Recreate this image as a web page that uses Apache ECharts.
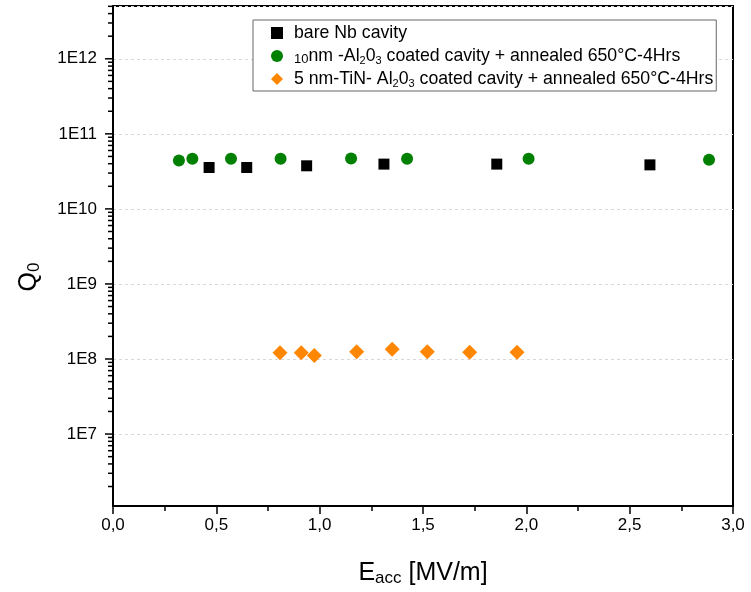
<!DOCTYPE html>
<html>
<head>
<meta charset="utf-8">
<script src="https://cdn.jsdelivr.net/npm/echarts@6/dist/echarts.min.js"></script>
<style>html,body{margin:0;padding:0;background:#fff}#c{width:751px;height:592px}</style>
</head>
<body>
<div id="c"></div>
<script>
// ---- data ----
const bareNbX = [0.465, 0.647, 0.937, 1.311, 1.857, 2.598];
const bareNbY = [3.56e10, 3.56e10, 3.75e10, 3.95e10, 3.95e10, 3.86e10];
const alX = [0.319, 0.384, 0.571, 0.811, 1.152, 1.423, 2.011, 2.884];
const alY = [4.4e10, 4.64e10, 4.64e10, 4.64e10, 4.7e10, 4.64e10, 4.64e10, 4.5e10];
const tinX = [0.808, 0.911, 0.974, 1.179, 1.351, 1.521, 1.726, 1.955];
const tinY = [1.21e8, 1.21e8, 1.11e8, 1.25e8, 1.35e8, 1.25e8, 1.23e8, 1.23e8];
const seriesNames = ['bare Nb cavity', 'Al2O3 10nm', 'TiN Al2O3 5nm'];
const legendLabels = [
  'bare Nb cavity',
  '{sm|10}nm -Al{sub|2}0{sub|3} coated cavity + annealed 650°C-4Hrs',
  '5 nm-TiN- Al{sub|2}0{sub|3} coated cavity + annealed 650°C-4Hrs'
];
const xTickLabels = ['0,0', '0,5', '1,0', '1,5', '2,0', '2,5', '3,0'];
const yMajorTicks = [1e7, 1e8, 1e9, 1e10, 1e11, 1e12];
const yMinorMultipliers = [2, 3, 4, 5, 6, 7, 8, 9];
const yMinorDecades = [1e6, 1e7, 1e8, 1e9, 1e10, 1e11, 1e12];

const Y_MIN = 1.1e6, Y_MAX = 5.05e12;
const FONT = 'Liberation Sans, Arial, sans-serif';

const tickData = [];
yMajorTicks.forEach(v => tickData.push([0, v, 1]));
yMinorDecades.forEach(d => yMinorMultipliers.forEach(m => {
  const v = d * m;
  if (v >= Y_MIN && v <= Y_MAX) tickData.push([0, v, 0]);
}));

const zip = (xs, ys) => xs.map((x, i) => [x, ys[i]]);

const chart = echarts.init(document.getElementById('c'), null, {renderer: 'canvas'});
chart.setOption({
  animation: false,
  backgroundColor: '#fff',
  grid: {left: 113, right: 18, top: 6, bottom: 86, show: true, borderColor: '#000', borderWidth: 2, backgroundColor: 'transparent'},
  legend: {
    data: [
      {name: seriesNames[0], icon: 'rect'},
      {name: seriesNames[1], icon: 'circle'},
      {name: seriesNames[2], icon: 'diamond'}
    ],
    orient: 'vertical',
    left: 253, top: 20,
    padding: [3, 3, 2, 18],
    itemGap: 3,
    itemWidth: 12, itemHeight: 12,
    borderColor: '#666', borderWidth: 1, borderRadius: 0,
    backgroundColor: '#fff',
    formatter: name => legendLabels[seriesNames.indexOf(name)],
    textStyle: {
      fontFamily: FONT, fontSize: 17.7, color: '#000', lineHeight: 20,
      padding: [0, 0, 0, 6],
      rich: {
        sub: {fontFamily: FONT, fontSize: 11, lineHeight: 9, verticalAlign: 'bottom', color: '#000'},
        sm: {fontFamily: FONT, fontSize: 13, lineHeight: 17, verticalAlign: 'bottom', color: '#000'}
      }
    }
  },
  xAxis: {
    type: 'value', min: 0, max: 3, interval: 0.5,
    axisLine: {show: true, onZero: false, lineStyle: {color: '#000', width: 2}},
    axisTick: {show: true, length: 8, lineStyle: {color: '#000', width: 1.5}},
    minorTick: {show: true, splitNumber: 2, length: 5, lineStyle: {color: '#000', width: 1.5}},
    splitLine: {show: false},
    axisLabel: {
      margin: 11, color: '#000', fontFamily: FONT, fontSize: 17,
      formatter: v => xTickLabels[Math.round(v / 0.5)]
    },
    name: '{n|E}{s|acc}{n| [MV/m]}',
    nameLocation: 'middle', nameGap: 53,
    nameTextStyle: {
      color: '#000', fontFamily: FONT, fontSize: 25, lineHeight: 28,
      rich: {
        n: {fontFamily: FONT, fontSize: 25, lineHeight: 28, color: '#000'},
        s: {fontFamily: FONT, fontSize: 17, lineHeight: 14, verticalAlign: 'bottom', color: '#000'}
      }
    }
  },
  yAxis: {
    type: 'log', logBase: 10, min: Y_MIN, max: Y_MAX,
    axisLine: {show: true, onZero: false, lineStyle: {color: '#000', width: 2}},
    axisTick: {show: false},
    splitLine: {show: true, lineStyle: {color: '#d8d8d8', width: 1, type: [3, 3]}},
    axisLabel: {
      margin: 16, color: '#000', fontFamily: FONT, fontSize: 17,
      formatter: v => {
        const e = Math.log10(v);
        if (Math.abs(e - Math.round(e)) > 1e-6) return '';
        return '1E' + Math.round(e);
      }
    },
    name: '{n|Q}{s|0}',
    nameLocation: 'middle', nameGap: 70, nameRotate: 90,
    nameTextStyle: {
      color: '#000', fontFamily: FONT, fontSize: 25, lineHeight: 28,
      padding: [0, 42, 0, 0],
      rich: {
        n: {fontFamily: FONT, fontSize: 25, lineHeight: 28, color: '#000'},
        s: {fontFamily: FONT, fontSize: 17, lineHeight: 14, verticalAlign: 'bottom', color: '#000'}
      }
    }
  },
  series: [
    {
      name: seriesNames[0], type: 'scatter', symbol: 'rect', symbolSize: 11,
      itemStyle: {color: '#000', opacity: 1}, data: zip(bareNbX, bareNbY), z: 3
    },
    {
      name: seriesNames[1], type: 'scatter', symbol: 'circle', symbolSize: 12,
      itemStyle: {color: '#008000', opacity: 1}, data: zip(alX, alY), z: 3
    },
    {
      name: seriesNames[2], type: 'scatter', symbol: 'diamond', symbolSize: 15,
      itemStyle: {color: '#ff8600', opacity: 1}, data: zip(tinX, tinY), z: 3
    },
    {
      name: 'yticks', type: 'custom', silent: true, clip: false, z: 5,
      data: tickData,
      renderItem: (params, api) => {
        const p = api.coord([api.value(0), api.value(1)]);
        const len = api.value(2) ? 8 : 5;
        return {
          type: 'line',
          shape: {x1: p[0] - len, y1: p[1], x2: p[0], y2: p[1]},
          style: {stroke: '#000', lineWidth: 1.5}
        };
      }
    }
  ]
});
</script>
</body>
</html>
